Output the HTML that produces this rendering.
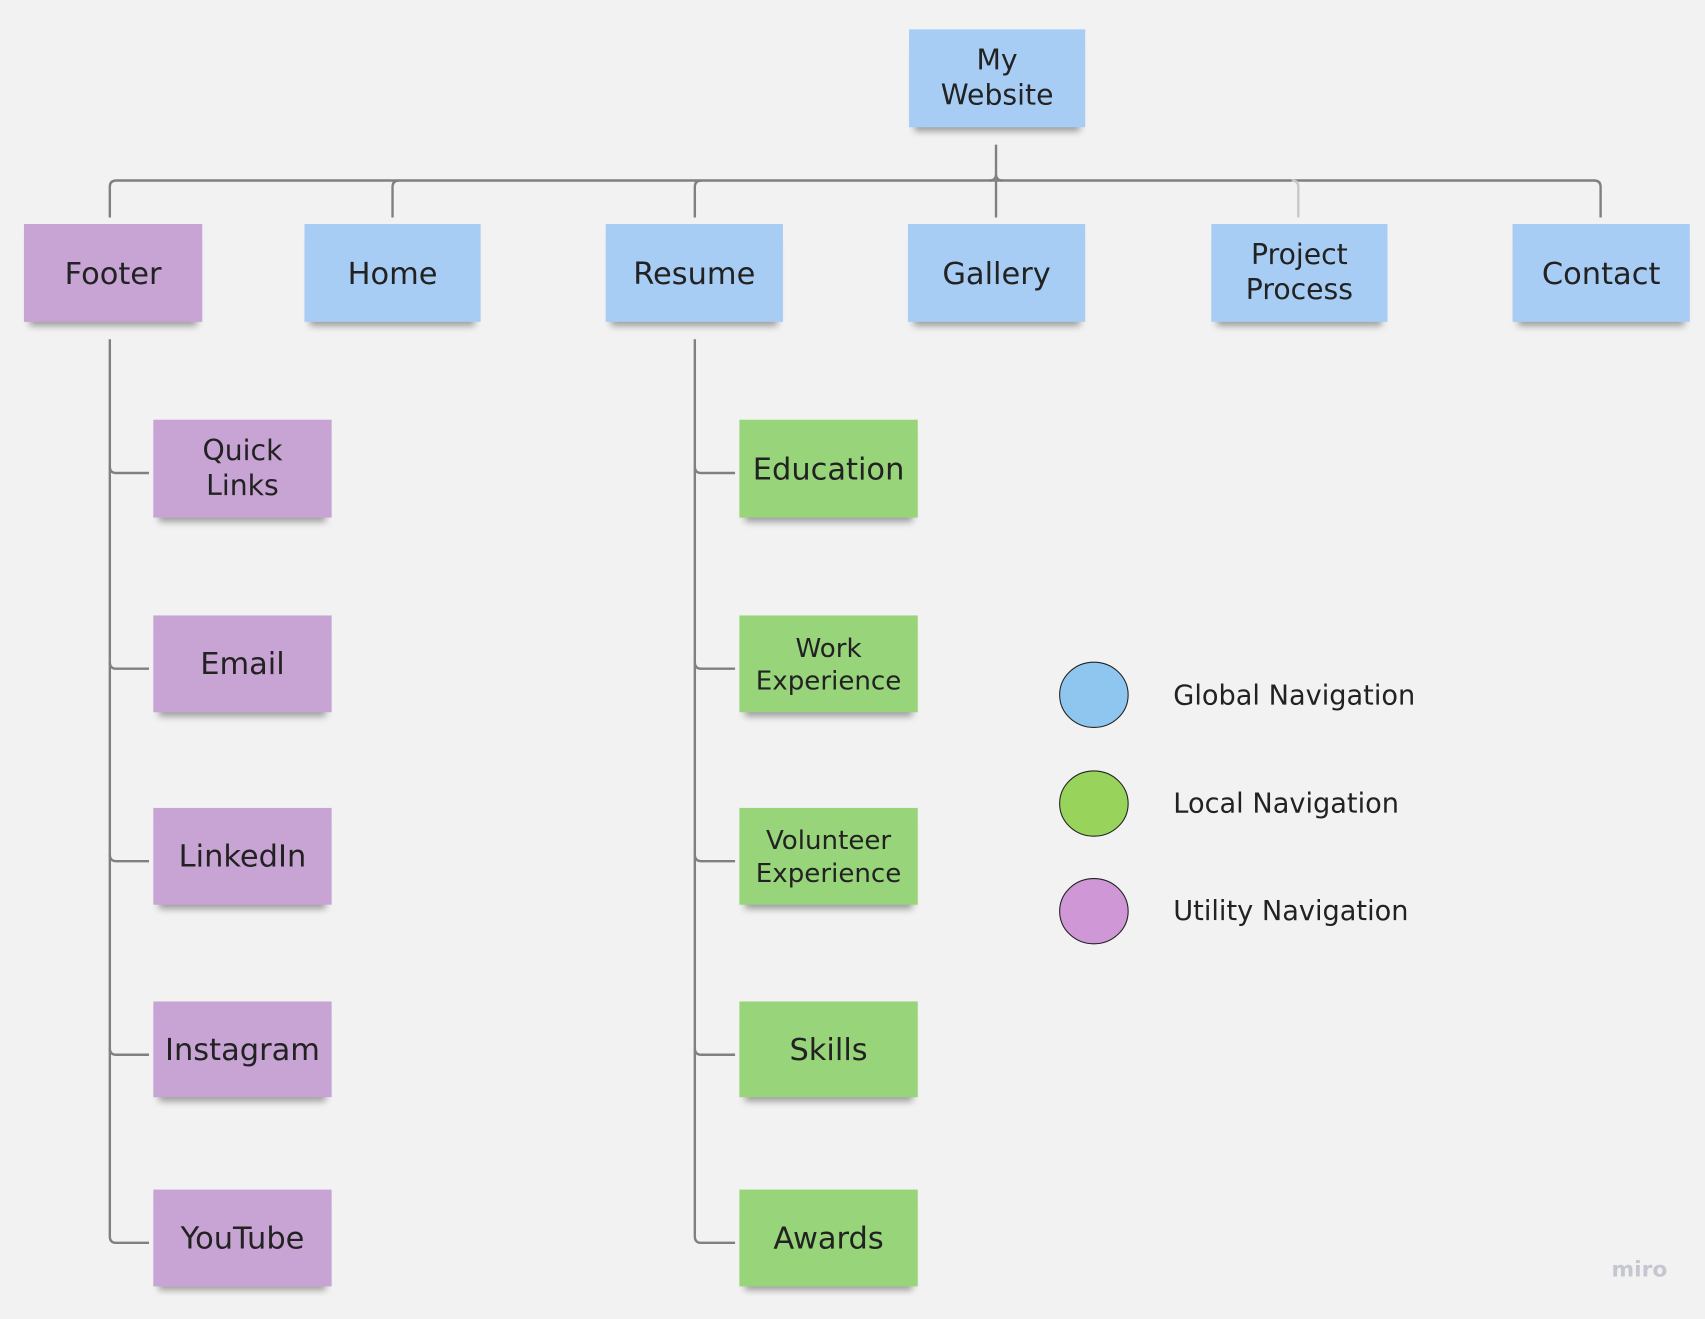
<!DOCTYPE html>
<html><head><meta charset="utf-8"><style>
html,body{margin:0;padding:0;background:#f2f2f2;width:1705px;height:1319px;overflow:hidden}
#s{position:absolute;left:0;top:0;width:1568px;height:1213px;transform:scale(1.08737);transform-origin:0 0;font-family:"DejaVu Sans","Liberation Sans",sans-serif;color:#222}
.n{position:absolute;display:flex;align-items:center;justify-content:center;text-align:center;font-size:28px;line-height:33px;box-shadow:0 9px 6px -5px rgba(0,0,0,0.35)}
.b{background:#a8cdf4}.p{background:#c8a4d4}.g{background:#97d47a}
.t2{font-size:26px;line-height:32px}
.t3{font-size:24px;line-height:30px}
.lg{position:absolute;left:1079px;font-size:25px;line-height:30px;color:#222}
</style></head><body><div id="s">
<svg width="1568" height="1213" style="position:absolute;left:0;top:0" fill="none" stroke="#808080" stroke-width="2.2">
<path d="M916 133 V160"/>
<path d="M101 200 V172 Q101 166 107 166 H1466 Q1472 166 1472 172 V200"/>
<path d="M916 160 Q916 166 910 166 M916 160 Q916 166 922 166"/>
<path d="M361 200 V172 Q361 166 367 166"/>
<path d="M639 200 V172 Q639 166 645 166"/>
<path d="M916 166 V200"/>
<path d="M1194 200 V172 Q1194 166 1188 166" stroke="#c8c8c8"/>
<path d="M101 312 V1137 Q101 1143 107 1143 H137"/>
<path d="M101 429 Q101 435 107 435 H137 M101 609 Q101 615 107 615 H137 M101 786 Q101 792 107 792 H137 M101 964 Q101 970 107 970 H137"/>
<path d="M639 312 V1137 Q639 1143 645 1143 H676"/>
<path d="M639 429 Q639 435 645 435 H676 M639 609 Q639 615 645 615 H676 M639 786 Q639 792 645 792 H676 M639 964 Q639 970 645 970 H676"/>
<ellipse cx="1006" cy="639" rx="31.5" ry="30" fill="#8fc6f0" stroke="#222" stroke-width="1"/>
<ellipse cx="1006" cy="739" rx="31.5" ry="30" fill="#98d45c" stroke="#222" stroke-width="1"/>
<ellipse cx="1006" cy="838" rx="31.5" ry="30" fill="#cf97d6" stroke="#222" stroke-width="1"/>
</svg>
<div class="n b t2" style="left:836px;top:27px;width:162px;height:90px">My<br>Website</div>
<div class="n p" style="left:22px;top:206px;width:164px;height:90px">Footer</div>
<div class="n b" style="left:280px;top:206px;width:162px;height:90px">Home</div>
<div class="n b" style="left:557px;top:206px;width:163px;height:90px">Resume</div>
<div class="n b" style="left:835px;top:206px;width:163px;height:90px">Gallery</div>
<div class="n b t2" style="left:1114px;top:206px;width:162px;height:90px">Project<br>Process</div>
<div class="n b" style="left:1391px;top:206px;width:163px;height:90px">Contact</div>
<div class="n p t2" style="left:141px;top:386px;width:164px;height:90px">Quick<br>Links</div>
<div class="n p" style="left:141px;top:566px;width:164px;height:89px">Email</div>
<div class="n p" style="left:141px;top:743px;width:164px;height:89px">LinkedIn</div>
<div class="n p" style="left:141px;top:921px;width:164px;height:88px">Instagram</div>
<div class="n p" style="left:141px;top:1094px;width:164px;height:89px">YouTube</div>
<div class="n g" style="left:680px;top:386px;width:164px;height:90px">Education</div>
<div class="n g t3" style="left:680px;top:566px;width:164px;height:89px">Work<br>Experience</div>
<div class="n g t3" style="left:680px;top:743px;width:164px;height:89px">Volunteer<br>Experience</div>
<div class="n g" style="left:680px;top:921px;width:164px;height:88px">Skills</div>
<div class="n g" style="left:680px;top:1094px;width:164px;height:89px">Awards</div>
<div class="lg" style="top:625px">Global Navigation</div>
<div class="lg" style="top:724px">Local Navigation</div>
<div class="lg" style="top:823px">Utility Navigation</div>
<div style="position:absolute;left:1482px;top:1155px;font-size:20px;color:#c6c6d0;font-weight:bold">miro</div>
</div></body></html>
